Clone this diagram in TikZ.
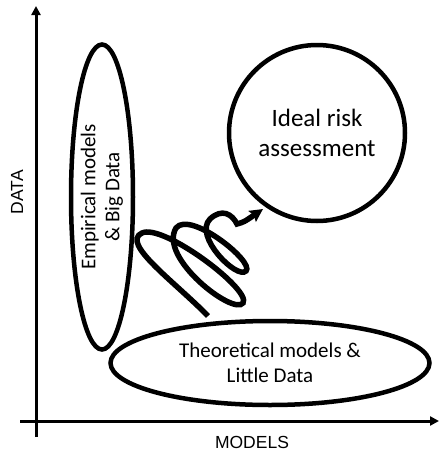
\documentclass[tikz,border=0pt]{standalone}
\usepackage{fontspec}
\setmainfont{Carlito}
\newfontfamily\axisfont{Liberation Sans}
\usetikzlibrary{positioning}
\usetikzlibrary{shapes.geometric}
\usetikzlibrary{arrows.meta}
\usetikzlibrary{shadows}
\tikzset{blob/.style={draw, line width=4.5pt, inner sep=0pt, align=center, fill=white,
  drop shadow={opacity=0.25, shadow xshift=1.2pt, shadow yshift=-1.2pt}}}
\tikzset{ax/.style={line width=3pt, -{Triangle[length=9pt,width=9pt]}}}
\tikzset{lab/.style={font=\axisfont\fontsize{17.5}{20}\selectfont}}
\tikzset{curl/.style={line width=5.5pt, line cap=butt, -{Stealth[length=13pt,width=13pt,inset=2pt]}}}

\begin{document}
\begin{tikzpicture}[x=1pt,y=-1pt]
        \useasboundingbox (0,0) rectangle (440,453);

        % axes
        \coordinate (yb) at (36,437);
        \coordinate (yt) at (36,6);
        \coordinate (xl) at (20,421);
        \coordinate (xr) at (439,421);
        \draw[ax] (yb) -- (yt);
        \draw[ax] (xl) -- (xr);
        \node[lab, rotate=90] (dat) at (17,192) {DATA};
        \node[lab] (mod) at (252,442) {MODELS};

        % the three regions
        \node[blob, ellipse, rotate=90, minimum width=305pt, minimum height=62pt,
              font=\fontsize{21}{24}\selectfont] (emp) at (102,197) {Empirical models\\\& Big Data};
        \node[blob, circle, minimum size=176pt,
              font=\fontsize{25}{30}\selectfont] (ideal) at (317,133) {Ideal risk\\assessment};
        \node[blob, ellipse, minimum width=319pt, minimum height=84pt,
              font=\fontsize{21}{25}\selectfont] (theo) at (270,363) {Theoretical models \&\\Little Data};

        % the curl from theory towards the ideal
        \coordinate (s) at (208,316);
        \coordinate (e) at (263,209);
        \draw[curl] (s) .. controls (175,282) and (120,243) .. (142,233)
          .. controls (163,223) and (252,290) .. (243,303)
          .. controls (234,316) and (158,258) .. (176,228)
          .. controls (190,210) and (255,262) .. (246,271)
          .. controls (237,280) and (193,236) .. (210,219)
          .. controls (222,208) and (232,214) .. (237,224)
          .. controls (244,222) .. (e);
    \end{tikzpicture}
\end{document}
